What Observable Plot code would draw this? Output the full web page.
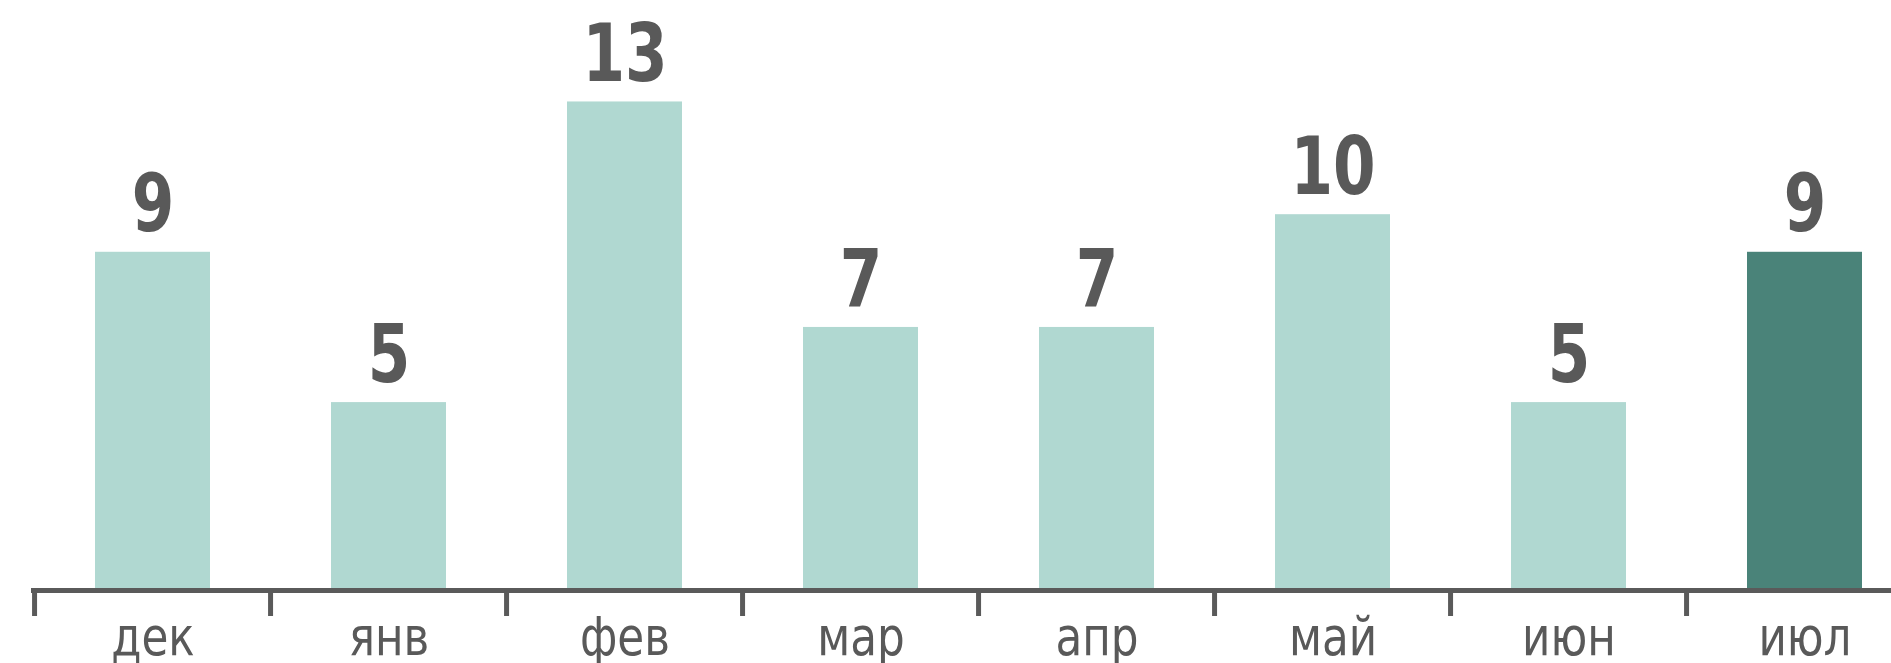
<!DOCTYPE html>
<html><head><meta charset="utf-8">
<script src="https://cdn.jsdelivr.net/npm/d3@7"></script>
<script src="https://cdn.jsdelivr.net/npm/@observablehq/plot@0.6"></script>
<style>html,body{margin:0;padding:0;background:#fff;overflow:hidden}</style>
</head><body><div id="chart"></div>
<script>
const months = ["дек", "янв", "фев", "мар", "апр", "май", "июн", "июл"];
const values = [9, 5, 13, 7, 7, 10, 5, 9];
const highlighted = ["июл"];

const data = months.map((month, i) => ({month, value: values[i], hl: highlighted.includes(month)}));

const W = 1891, H = 663, mL = 31, mR = -35, mT = 0, mB = 73;
const step = (W - mL - mR) / months.length;
const ink = "#595959";
const font = "'DejaVu Sans Condensed', 'DejaVu Sans', sans-serif";

const chart = Plot.plot({
  width: W, height: H,
  marginLeft: mL, marginRight: mR, marginTop: mT, marginBottom: mB,
  style: {background: "#fff", overflow: "hidden", fontFamily: font},
  x: {domain: months, paddingInner: 0.5145, paddingOuter: 0.2573, axis: null},
  y: {domain: [0, 15.7], axis: null},
  color: {type: "identity"},
  marks: [
    Plot.barY(data, {x: "month", y: "value", fill: d => d.hl ? "#4a8379" : "#b0d8d1"}),
    Plot.ruleY([0], {stroke: "#5a5a5a", strokeWidth: 5}),
    Plot.axisX({label: null, tickSize: 26, tickFormat: () => "", dx: -step / 2, stroke: "#5a5a5a", strokeWidth: 5}),
    Plot.text(data, {x: "month", y: "value", text: d => String(d.value), dy: -21, lineAnchor: "bottom",
      fontSize: 81, fontWeight: "bold", fill: ink, fontFamily: font}),
    Plot.text(months, {x: d => d, frameAnchor: "bottom", dy: 64, lineAnchor: "bottom",
      fontSize: 54, fill: ink, fontFamily: font})
  ]
});
document.getElementById("chart").appendChild(chart);

// narrow the glyphs horizontally to match the condensed typeface of the reference
function narrow(group, s) {
  d3.select(group).selectAll("text").each(function() {
    const t = d3.select(this);
    const tr = t.attr("transform");
    if (tr) {
      t.attr("transform", tr + ` scale(${s},1)`);
    } else {
      const x = +t.attr("x") || 0, y = +t.attr("y") || 0;
      t.attr("x", null).attr("y", null).attr("transform", `translate(${x},${y}) scale(${s},1)`);
    }
  });
}
const textGroups = chart.querySelectorAll("g[aria-label='text']");
if (textGroups[0]) narrow(textGroups[0], 0.84);
if (textGroups[1]) narrow(textGroups[1], 0.9);
</script>
</body></html>
